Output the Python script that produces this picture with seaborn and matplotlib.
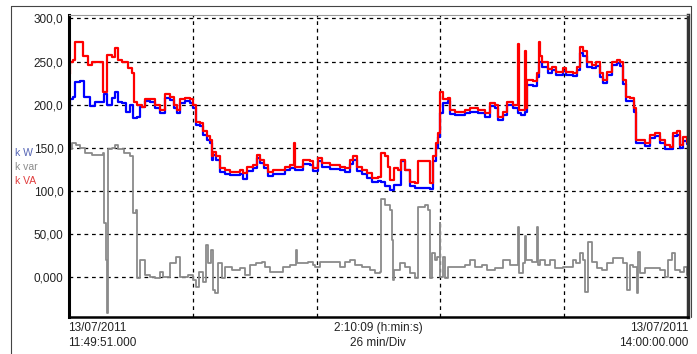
import matplotlib
matplotlib.use("Agg")
import matplotlib.pyplot as plt
import matplotlib.lines as mlines
import pandas as pd
import seaborn as sns

# minutes since 11:49:51 and readings for each channel
t_kva = [0.0, 0.3, 0.8, 1.3, 2.3, 2.9, 4.0, 4.8, 5.9, 6.5, 7.2, 7.9, 9.0, 9.7, 10.3, 11.1,
         12.4, 13.2, 13.7, 14.3, 15.3, 16.0, 17.0, 18.1, 19.1, 20.2, 21.2, 22.1, 22.7, 23.3,
         24.4, 25.4, 26.0, 26.7, 27.5, 28.1, 29.0, 29.6, 30.0, 30.2, 30.9, 31.7, 32.8, 33.8,
         35.3, 35.9, 36.5, 37.4, 38.6, 39.5, 40.1, 41.0, 41.8, 42.8, 44.3, 45.4, 46.4, 47.3,
         47.5, 49.1, 50.6, 51.2, 52.3, 53.1, 54.8, 56.9, 58.0, 59.0, 59.6, 60.5, 61.5, 62.6,
         63.6, 64.9, 65.5, 66.4, 67.0, 67.4, 68.3, 69.1, 69.7, 70.6, 71.6, 72.7, 73.3, 75.4,
         75.8, 76.4, 77.1, 77.5, 77.9, 78.0, 78.5, 79.6, 80.0, 81.1, 83.2, 84.2, 85.9, 87.4,
         88.4, 89.5, 90.1, 91.1, 92.0, 93.2, 94.3, 94.5, 95.8, 96.0, 96.2, 97.4, 98.3, 98.7,
         98.9, 99.3, 100.6, 101.4, 102.3, 103.7, 104.4, 105.8, 106.7, 107.3, 107.9, 108.8,
         109.8, 110.7, 111.5, 112.1, 113.0, 114.0, 115.1, 115.7, 116.3, 117.0, 117.8, 118.7,
         119.1, 121.0, 122.0, 123.1, 124.1, 125.2, 126.2, 126.8, 127.7, 128.3, 129.0, 129.8]
kva = [236, 250, 252, 273, 273, 256, 246, 249, 250, 249, 215, 257, 255, 266, 252, 249,
       243, 237, 203, 200, 197, 206, 206, 200, 194, 212, 209, 200, 194, 206,
       208, 206, 200, 180, 179, 169, 163, 159, 140, 145, 140, 127, 124, 122,
       122, 124, 121, 128, 130, 142, 136, 130, 122, 124, 124, 128, 130, 156,
       128, 136, 134, 127, 138, 132, 130, 128, 127, 136, 140, 128, 124, 121,
       115, 116, 144, 140, 128, 113, 127, 124, 136, 124, 110, 109, 134, 134,
       109, 140, 156, 167, 194, 215, 206, 208, 194, 192, 194, 196, 194, 190,
       202, 200, 186, 192, 203, 200, 270, 194, 262, 196, 229, 227, 237, 273,
       256, 249, 241, 244, 238, 243, 238, 237, 244, 267, 262, 249,
       246, 249, 237, 229, 238, 250, 252, 249, 229, 209, 208, 196,
       159, 156, 165, 167, 159, 153, 151, 167, 169, 153, 162, 157]

t_kw = [0.0, 0.3, 0.8, 1.3, 2.3, 3.1, 4.4, 5.5, 6.5, 7.4, 8.0, 9.0, 9.7, 10.3, 11.1,
        12.0, 12.8, 13.5, 14.3, 15.0, 16.0, 17.0, 18.1, 19.1, 20.2, 21.2, 22.1, 22.7, 23.3,
        24.4, 25.4, 26.0, 26.7, 27.5, 28.1, 29.0, 29.6, 30.0, 30.2, 30.9, 31.7, 32.8, 33.8,
        35.3, 35.9, 36.5, 37.4, 38.6, 39.5, 40.1, 41.0, 41.8, 42.8, 44.3, 45.4, 46.4, 47.5,
        49.1, 50.6, 51.2, 52.3, 53.1, 54.8, 56.9, 58.0, 59.0, 59.6, 60.5, 61.5, 62.6, 63.6,
        64.9, 65.5, 66.4, 67.4, 68.3, 69.7, 70.6, 71.6, 72.7, 75.8, 76.4, 77.1, 77.5, 77.9,
        78.5, 79.6, 80.0, 81.1, 83.2, 84.2, 85.9, 87.4, 88.4, 89.5, 90.1, 91.1, 92.0, 93.2,
        94.3, 94.9, 95.8, 96.2, 97.4, 98.3, 98.7, 99.3, 100.6, 101.4, 102.3, 103.7, 104.4,
        105.8, 106.7, 107.3, 107.9, 108.8, 109.8, 110.7, 111.5, 112.1, 113.0, 114.0, 115.1,
        115.7, 116.3, 117.0, 117.8, 118.7, 119.1, 121.0, 122.0, 123.1, 124.1, 125.2, 126.2,
        126.8, 127.7, 128.3, 129.0, 129.8]
kw = [194, 206, 209, 226, 227, 209, 198, 203, 203, 212, 200, 208, 215, 203, 202,
      192, 200, 185, 186, 197, 204, 203, 196, 190, 208, 205, 196, 190, 202,
      204, 202, 196, 176, 175, 165, 159, 155, 136, 141, 136, 122, 119, 118,
      118, 119, 114, 123, 126, 138, 132, 126, 117, 119, 120, 124, 126, 124,
      131, 130, 123, 134, 128, 125, 124, 122, 131, 136, 123, 119, 115, 110,
      111, 110, 105, 101, 107, 134, 124, 105, 103, 102, 135, 150, 162, 190,
      202, 204, 189, 188, 190, 192, 190, 186, 198, 196, 182, 188, 199, 196,
      190, 188, 192, 223, 222, 232, 250, 244, 237, 240, 234, 239, 234,
      233, 240, 260, 256, 244, 242, 245, 232, 225, 234, 246, 248,
      245, 224, 204, 204, 191, 155, 152, 161, 163, 155, 149, 148,
      163, 165, 150, 158, 154]

t_kvar = [0.0, 0.2, 0.6, 1.5, 2.3, 3.4, 4.8, 7.1, 7.3, 7.7, 7.9, 8.2, 9.0, 9.7, 10.3,
          11.6, 12.8, 13.4, 14.1, 14.3, 14.9, 16.0, 17.0, 18.1, 19.1, 19.7, 21.2, 22.5,
          23.3, 25.0, 26.0, 26.7, 27.3, 28.1, 28.8, 29.2, 29.8, 30.2, 30.7, 31.3, 32.1,
          32.8, 34.2, 35.9, 37.0, 38.0, 39.3, 40.5, 41.2, 42.2, 44.9, 46.4, 47.7, 47.9,
          50.2, 51.2, 51.7, 52.7, 56.9, 58.0, 59.0, 60.1, 61.5, 63.2, 64.3, 65.3, 65.5,
          66.4, 67.4, 67.8, 68.0, 68.3, 69.5, 70.6, 71.6, 72.7, 73.3, 74.8, 75.4, 75.8,
          76.2, 76.9, 77.3, 77.9, 78.0, 78.5, 79.0, 79.6, 83.2, 84.2, 85.3, 86.7, 87.8,
          89.5, 91.1, 92.6, 94.3, 94.5, 95.3, 95.8, 96.0, 97.2, 98.3, 98.5, 98.9, 100.0,
          101.0, 102.1, 103.7, 105.8, 106.5, 107.3, 107.9, 108.4, 109.0, 109.8, 110.9,
          111.9, 113.0, 114.2, 116.3, 117.2, 117.8, 118.4, 119.3, 119.5, 119.9, 121.0,
          124.1, 125.2, 125.8, 126.6, 127.2, 128.3, 129.2, 129.8]
kvar = [144, 148, 156, 153, 150, 144, 142, 144, 63, 20, -42, 148, 150, 153, 148,
        144, 140, 74, 78, -1, 20, 2, 0, -1, 6, 0, 16, 23,
        0, 2, -3, -12, 6, -6, 37, 16, 31, -15, -19, 16, -1,
        12, 8, 10, 2, 14, 16, 17, 12, 6, 12, 14, 31, 16,
        17, 14, 12, 17, 12, 17, 20, 14, 12, 8, 5, 6, 90,
        84, 78, 43, -4, 8, 16, 12, 5, -1, 81, 84, 78, -1,
        28, 20, 23, 63, 0, 23, -1, 12, 14, 20, 12, 14, 8,
        10, 20, 14, 58, 5, 16, 47, 20, 17, 58, 14, 20, 14,
        20, 10, 12, 20, 16, 28, 20, -17, 40, 17, 10,
        8, 16, 22, 16, -15, 14, 12, -19, 29, 5, 10,
        8, 0, 20, 28, 8, 6, 12, 2]

y_ticks = [0, 50, 100, 150, 200, 250, 300]
y_labels = ["0,000", "50,00", "100,0", "150,0", "200,0", "250,0", "300,0"]
x_grid = [26, 52, 78, 104]

sns.set_style("white")
plt.rcParams["font.family"] = ["Liberation Sans", "DejaVu Sans"]

fig = plt.figure(figsize=(6.97, 3.54), dpi=100)
ax = fig.add_axes([69 / 697, 1 - 317 / 354, 619 / 697, 302 / 354])

style = dict(drawstyle="steps-post", sort=False, estimator=None, legend=False)
sns.lineplot(x=t_kvar, y=kvar, color="#8a8a8a", linewidth=1.3, ax=ax, **style)
sns.lineplot(x=t_kw, y=kw, color="#0000ff", linewidth=1.6, ax=ax, **style)
sns.lineplot(x=t_kva, y=kva, color="#ff0000", linewidth=1.6, ax=ax, **style)

ax.set_xlim(0, 130)
ax.set_ylim(-46.5, 304)
ax.set_yticks(y_ticks)
ax.set_yticklabels(y_labels, fontsize=8.5, color="#222222")
ax.set_xticks(x_grid)
ax.set_xticklabels([])
ax.tick_params(axis="y", length=0, pad=4)
ax.tick_params(axis="x", direction="in", length=2, width=0.8, color="#555555")
ax.grid(True, color="black", linestyle=(0, (3, 3)), linewidth=0.9)
ax.set_xlabel("")
ax.set_ylabel("")

for side in ["left", "bottom"]:
    ax.spines[side].set_color("black")
ax.spines["left"].set_linewidth(2.2)
ax.spines["bottom"].set_linewidth(1.8)
ax.spines["top"].set_color("#999999")
ax.spines["top"].set_linewidth(0.8)
ax.spines["right"].set_color("#333333")
ax.spines["right"].set_linewidth(2.5)

# outer frame
fig.add_artist(mlines.Line2D([11 / 697, 11 / 697], [0, 1 - 6 / 354], transform=fig.transFigure,
                             color="#444444", linewidth=0.8))
fig.add_artist(mlines.Line2D([11 / 697, 691 / 697], [1 - 6 / 354, 1 - 6 / 354],
                             transform=fig.transFigure, color="#444444", linewidth=0.8))
fig.add_artist(mlines.Line2D([691 / 697, 691 / 697], [1 - 6 / 354, 1 - 317 / 354],
                             transform=fig.transFigure, color="#444444", linewidth=0.8))

# channel names at left
fig.text(15 / 697, 1 - 153 / 354, "k W", color="#5565b5", fontsize=7.5, va="center")
fig.text(15 / 697, 1 - 167 / 354, "k var", color="#8c8c8c", fontsize=7.5, va="center")
fig.text(15 / 697, 1 - 181 / 354, "k VA", color="#e03c3c", fontsize=7.5, va="center")

# time annotations under the axis
fig.text(68 / 697, 1 - 328 / 354, "13/07/2011", fontsize=8.5, ha="left", va="center", color="#222222")
fig.text(68 / 697, 1 - 343 / 354, "11:49:51.000", fontsize=8.5, ha="left", va="center", color="#222222")
fig.text(378 / 697, 1 - 328 / 354, "2:10:09 (h:min:s)", fontsize=8.5, ha="center", va="center", color="#222222")
fig.text(378 / 697, 1 - 343 / 354, "26 min/Div", fontsize=8.5, ha="center", va="center", color="#222222")
fig.text(688 / 697, 1 - 328 / 354, "13/07/2011", fontsize=8.5, ha="right", va="center", color="#222222")
fig.text(688 / 697, 1 - 343 / 354, "14:00:00.000", fontsize=8.5, ha="right", va="center", color="#222222")

fig.savefig("out.png", dpi=100)
